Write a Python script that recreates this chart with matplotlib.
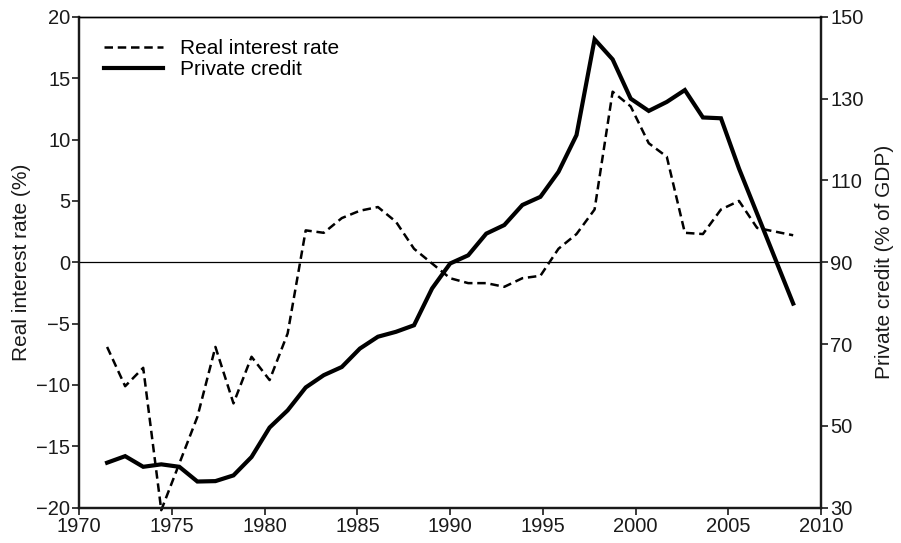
import numpy as np
import matplotlib
matplotlib.use("Agg")
import matplotlib.pyplot as plt
from matplotlib.lines import Line2D

plt.rcParams['font.family'] = ['Liberation Sans', 'DejaVu Sans']

# annual observations, 1971 onwards
years = np.arange(1971, 2010)

real_rate = [-6.9, -10.1, -8.6, -20.2, -16.4, -12.6, -6.9, -11.5, -7.7, -9.6,
             -5.8, 2.6, 2.4, 3.6, 4.2, 4.5, 3.3, 1.1, -0.1, -1.3,
             -1.7, -1.7, -2.0, -1.3, -1.1, 1.1, 2.3, 4.3, 13.9, 12.7,
             9.7, 8.6, 2.4, 2.3, 4.3, 5.0, 2.8, 2.5, 2.2]

private_credit = [41.0, 42.6, 40.0, 40.6, 40.0, 36.4, 36.5, 37.9, 42.4, 49.6,
                  53.8, 59.4, 62.4, 64.4, 68.9, 71.8, 73.0, 74.6, 83.6, 89.7,
                  91.7, 97.0, 99.1, 104.0, 106.0, 112.1, 121.1, 144.5, 139.6, 130.0,
                  127.0, 129.2, 132.1, 125.4, 125.2, 112.9, 101.9, 90.9, 79.9]

# the series sit between mid-1971 and mid-2008 on the time axis
x = np.linspace(1971.5, 2008.5, len(years))

fig = plt.figure(figsize=(9.01, 5.43), dpi=100)
ax = fig.add_axes([0.088, 0.065, 0.8232, 0.904])
ax2 = ax.twinx()

ax.plot(x, real_rate, color='black', lw=1.8, dashes=(3.4, 1.9),
        clip_on=False, zorder=3)
ax2.plot(x, private_credit, color='black', lw=3.0, solid_joinstyle='miter',
         zorder=3)
ax.axhline(0, color='black', lw=0.9, zorder=2)

ax.set_xlim(1970, 2010)
ax.set_ylim(-20, 20)
ax2.set_ylim(30, 150)
ax.set_xticks(np.arange(1970, 2011, 5))
ax.set_yticks(np.arange(-20, 21, 5))
ax2.set_yticks(np.arange(30, 151, 20))
ax.set_yticklabels([str(v).replace('-', '\u2212') for v in range(-20, 21, 5)])

for a in (ax, ax2):
    a.tick_params(direction='out', length=5, width=1.2, labelsize=14.5,
                  colors='#1a1a1a', pad=1.5)
    for s in ('left', 'right', 'bottom'):
        a.spines[s].set_linewidth(1.6)
        a.spines[s].set_color('#1a1a1a')
    a.spines['top'].set_linewidth(1.0)

ax.set_ylabel('Real interest rate (%)', fontsize=15, color='#1a1a1a',
              labelpad=4)
ax2.set_ylabel('Private credit (% of GDP)', fontsize=15, color='#1a1a1a',
               labelpad=8)

handles = [Line2D([], [], color='black', lw=1.8, dashes=(3.4, 1.9)),
           Line2D([], [], color='black', lw=3.0)]
ax.legend(handles, ['Real interest rate', 'Private credit'], loc='upper left',
          frameon=False, fontsize=15, handlelength=2.85, handletextpad=0.8,
          labelspacing=0.12, borderaxespad=0, bbox_to_anchor=(0.022, 0.972))

fig.savefig('out.png', dpi=100)
